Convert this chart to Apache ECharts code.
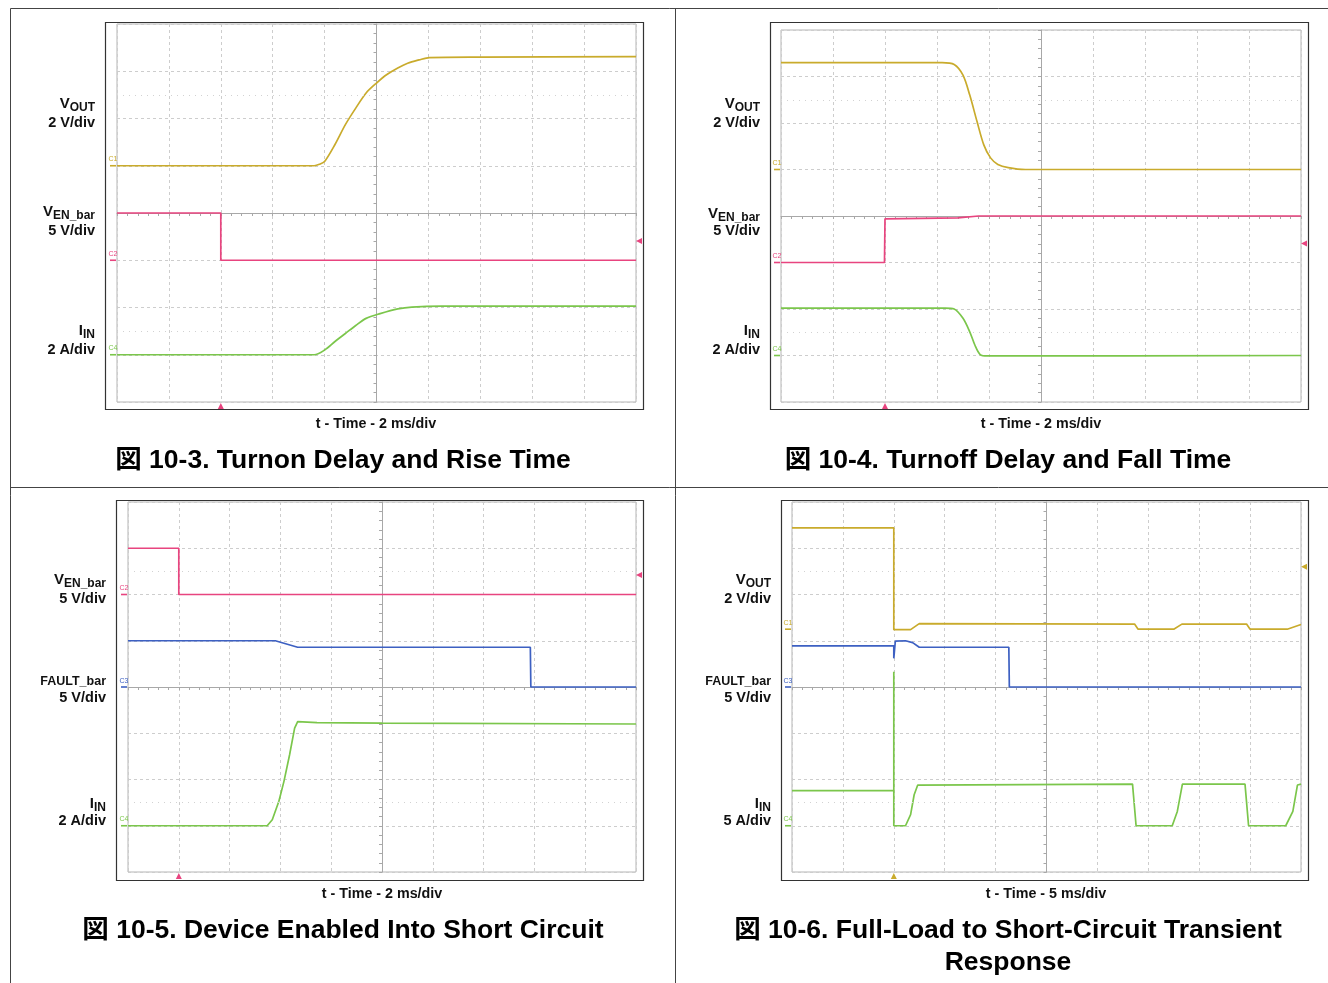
<!DOCTYPE html>
<html><head><meta charset="utf-8">
<script src="https://cdn.jsdelivr.net/npm/echarts@6/dist/echarts.min.js"></script>
<style>html,body{margin:0;padding:0;background:#fff}#c{width:1328px;height:983px}</style>
</head><body><div id="c"></div><script>
// ---------------- DATA (time in ms, amplitude in divisions from screen centre) ----------------
const fig3Vout = [[-10,1.0],[-2.4,1.0],[-2.2,1.03],[-2.0,1.09],[-1.6,1.45],[-1.2,1.87],[-0.8,2.22],[-0.4,2.54],[0,2.75],[0.4,2.93],[0.82,3.07],[1.2,3.17],[1.64,3.24],[2.04,3.29],[4,3.30],[10,3.31]];
const fig3Ven  = [[-10,0],[-6,0],[-6,-1],[10,-1]];
const fig3Iin  = [[-10,-3],[-2.4,-3],[-2.0,-2.9],[-1.6,-2.72],[-1.2,-2.55],[-0.8,-2.38],[-0.4,-2.23],[0.14,-2.13],[0.82,-2.03],[1.36,-1.99],[2.5,-1.97],[10,-1.97]];

const fig4Vout = [[-10,3.30],[-3.8,3.30],[-3.34,3.26],[-3.0,3.03],[-2.74,2.60],[-2.46,2.03],[-2.2,1.53],[-1.94,1.25],[-1.66,1.11],[-1.26,1.04],[-0.6,1.0],[10,1.0]];
const fig4Ven  = [[-10,-1.0],[-6.02,-1.0],[-6.0,-0.06],[-3.2,-0.04],[-2.4,0.0],[10,0.0]];
const fig4Iin  = [[-10,-1.98],[-3.68,-1.98],[-3.34,-2.0],[-3.0,-2.2],[-2.74,-2.49],[-2.54,-2.78],[-2.34,-2.98],[-2.06,-3.01],[10,-3.0]];

const fig5Ven   = [[-10,3],[-8,3],[-8,2],[10,2]];
const fig5Fault = [[-10,1.0],[-4.2,1.0],[-3.32,0.86],[5.84,0.86],[5.86,0.0],[10,0.0]];
const fig5Iin   = [[-10,-3.0],[-4.52,-3.0],[-4.32,-2.87],[-4.06,-2.47],[-3.86,-2.04],[-3.64,-1.47],[-3.44,-0.89],[-3.32,-0.75],[-2.56,-0.77],[0,-0.78],[10,-0.80]];

const fig6Vout  = [[-25,3.44],[-15,3.44],[-15,1.24],[-13.35,1.24],[-12.5,1.37],[8.65,1.36],[9.0,1.25],[12.5,1.25],[13.3,1.36],[19.65,1.36],[20,1.25],[23.65,1.25],[25,1.35]];
const fig6Fault = [[-25,0.89],[-15,0.89],[-15,0.62],[-14.85,0.99],[-13.85,1.0],[-13.15,0.96],[-12.5,0.86],[-3.7,0.86],[-3.65,0.0],[25,0.0]];
const fig6Iin   = [[-25,-2.24],[-15,-2.24],[-15,0.33],[-15,-3.0],[-13.85,-3.0],[-13.35,-2.76],[-13.0,-2.33],[-12.65,-2.12],[-12.5,-2.1],[8.45,-2.1],[8.8,-3.0],[12.35,-3.0],[12.85,-2.69],[13.35,-2.1],[19.5,-2.1],[19.85,-3.0],[23.5,-3.0],[24.2,-2.69],[24.65,-2.12],[25,-2.1]];

const timeHalfSpan = [10,10,10,25];
const timeDiv      = [2,2,2,5];
const triggerTimes = [-6,-6,-8,-15];
const rightMarkLevels = [-0.59,-0.59,2.42,2.6];
const channelTags = [
  [['C1',1],['C2',-1],['C4',-3]],
  [['C1',1],['C2',-1],['C4',-3]],
  [['C2',2],['C3',0],['C4',-3]],
  [['C1',1.25],['C3',0],['C4',-3]]
];
const timeLabels = ['t - Time - 2 ms/div','t - Time - 2 ms/div','t - Time - 2 ms/div','t - Time - 5 ms/div'];
const figTitles = [['図 10-3. Turnon Delay and Rise Time'],['図 10-4. Turnoff Delay and Fall Time'],['図 10-5. Device Enabled Into Short Circuit'],['図 10-6. Full-Load to Short-Circuit Transient','Response']];
const chanNames = [
  [['V','OUT','2 V/div'],['V','EN_bar','5 V/div'],['I','IN','2 A/div']],
  [['V','OUT','2 V/div'],['V','EN_bar','5 V/div'],['I','IN','2 A/div']],
  [['V','EN_bar','5 V/div'],['FAULT_bar','','5 V/div'],['I','IN','2 A/div']],
  [['V','OUT','2 V/div'],['FAULT_bar','','5 V/div'],['I','IN','5 A/div']]
];

// ---------------- STYLE / LAYOUT ----------------
const FONT = '"Liberation Sans", Arial, "Noto Sans CJK JP", sans-serif';
const COL = {C1:'#c9ab2c', C2:'#e8447f', C3:'#3d60c2', C4:'#7bc64b'};
const panelSeries = [
  [[fig3Vout,'C1',true],[fig3Ven,'C2',false],[fig3Iin,'C4',true]],
  [[fig4Vout,'C1',true],[fig4Ven,'C2',false],[fig4Iin,'C4',true]],
  [[fig5Ven,'C2',false],[fig5Fault,'C3',false],[fig5Iin,'C4',false]],
  [[fig6Vout,'C1',false],[fig6Fault,'C3',false],[fig6Iin,'C4',false]]
];
const trigChan = ['C2','C2','C2','C1'];
const layout = [
  {grid:[117,24,519,378], frame:[105,22,538,387], labelX:95, labelY:[[104,123],[212,231],[331,350]], timeY:424, titleY:[461]},
  {grid:[781,30,520,372], frame:[770,22,538,387], labelX:760, labelY:[[104,123],[214,231],[331,350]], timeY:424, titleY:[461]},
  {grid:[128,502,508,370], frame:[116,500,527,380], labelX:106, labelY:[[580,599],[682,698],[804,821]], timeY:894, titleY:[931]},
  {grid:[792,502,509,370], frame:[781,500,527,380], labelX:771, labelY:[[580,599],[682,698],[804,821]], timeY:894, titleY:[931,963]}
];
const titleCX = [343,1008,343,1008];
const timeCX = [376,1041,382,1046];

const mctx = document.createElement('canvas').getContext('2d');
function tw(t,f){mctx.font=f;return mctx.measureText(t).width;}

const chart = echarts.init(document.getElementById('c'), null, {renderer:'canvas'});
const grids=[], xAxes=[], yAxes=[], series=[], graphics=[];

// table lines
[[10.5,8.5,1328,8.5],[10.5,8.5,10.5,983],[675.5,8.5,675.5,983],[10.5,487.5,1328,487.5]].forEach(s=>{
  graphics.push({type:'line',shape:{x1:s[0],y1:s[1],x2:s[2],y2:s[3]},style:{stroke:'#444',lineWidth:1},z:10});
});

layout.forEach((L,i)=>{
  const [gl,gt,gw,gh]=L.grid;
  grids.push({left:gl,top:gt,width:gw,height:gh,show:true,borderColor:'#b5b5b5',borderWidth:1,backgroundColor:'#fff'});
  const span=timeHalfSpan[i], dv=timeDiv[i];
  xAxes.push({type:'value',gridIndex:i,min:-span,max:span,interval:dv,
    axisLine:{show:true,onZero:true,lineStyle:{color:'#a8a8a8',width:1}},
    axisTick:{show:true,length:3,lineStyle:{color:'#a8a8a8'}},
    minorTick:{show:true,splitNumber:5,length:3,lineStyle:{color:'#a8a8a8'}},
    axisLabel:{show:false},
    splitLine:{show:true,lineStyle:{color:'#cdcdcd',type:[3,3],width:1}}});
  yAxes.push({type:'value',gridIndex:i,min:-4,max:4,interval:1,
    axisLine:{show:true,onZero:true,lineStyle:{color:'#a8a8a8',width:1}},
    axisTick:{show:true,length:3,lineStyle:{color:'#a8a8a8'}},
    minorTick:{show:true,splitNumber:5,length:3,lineStyle:{color:'#a8a8a8'}},
    axisLabel:{show:false},
    splitLine:{show:true,lineStyle:{color:'#cdcdcd',type:[3,3],width:1}}});
  const [fx,fy,fw,fh]=L.frame;
  graphics.push({type:'rect',shape:{x:fx+0.5,y:fy+0.5,width:fw,height:fh},style:{fill:null,stroke:'#333',lineWidth:1.2},z:5});
  panelSeries[i].forEach(([d,ch,smooth],k)=>{
    const lvl = channelTags[i].find(t=>t[0]===ch)[1];
    const mpData=[{coord:[-span,lvl],symbol:'rect',symbolSize:[6,1.6],symbolOffset:[-4,0],
      label:{show:true,formatter:ch,position:'top',distance:2,fontSize:7,color:COL[ch],fontFamily:FONT}}];
    if(trigChan[i]===ch){
      mpData.push({coord:[triggerTimes[i],-4],symbol:'triangle',symbolSize:[6,6],symbolOffset:[0,4],label:{show:false}});
      mpData.push({coord:[span,rightMarkLevels[i]],symbol:'triangle',symbolSize:[6,6],symbolRotate:90,symbolOffset:[3,0],label:{show:false}});
    }
    const s={type:'line',xAxisIndex:i,yAxisIndex:i,data:d,showSymbol:false,animation:false,
      smooth: smooth?0.3:false,
      lineStyle:{color:COL[ch],width:1.7},itemStyle:{color:COL[ch]},z:3,
      markPoint:{silent:true,animation:false,itemStyle:{color:COL[ch]},data:mpData}};
    if(k===0){
      s.markLine={silent:true,animation:false,symbol:'none',label:{show:false},
        lineStyle:{color:'#d2d2d2',type:[1,5],width:1},data:[{yAxis:2.5},{yAxis:-2.5}]};
    }
    series.push(s);
  });
  const fMain='bold 15px '+FONT, fSub='bold 12px '+FONT, fUnit='bold 14.5px '+FONT, fPlain='bold 12.5px '+FONT;
  chanNames[i].forEach(([m,sub,unit],k)=>{
    const [yM,yU]=L.labelY[k];
    const xr=L.labelX;
    if(sub){
      const sw=tw(sub,fSub);
      graphics.push({type:'text',x:xr-sw,y:yM,style:{text:m,font:fMain,fill:'#111',textAlign:'right',textVerticalAlign:'middle'}});
      graphics.push({type:'text',x:xr-sw,y:yM+4,style:{text:sub,font:fSub,fill:'#111',textAlign:'left',textVerticalAlign:'middle'}});
    } else {
      graphics.push({type:'text',x:xr,y:yM,style:{text:m,font:fPlain,fill:'#111',textAlign:'right',textVerticalAlign:'middle'}});
    }
    graphics.push({type:'text',x:xr,y:yU,style:{text:unit,font:fUnit,fill:'#111',textAlign:'right',textVerticalAlign:'middle'}});
  });
  graphics.push({type:'text',x:timeCX[i],y:L.timeY,style:{text:timeLabels[i],font:'bold 14.3px '+FONT,fill:'#111',textAlign:'center',textVerticalAlign:'middle'}});
  figTitles[i].forEach((t,k)=>{
    graphics.push({type:'text',x:titleCX[i],y:L.titleY[k],style:{text:t,font:'bold 26.5px '+FONT,fill:'#000',textAlign:'center',textVerticalAlign:'middle'}});
  });
});

chart.setOption({animation:false,backgroundColor:'#fff',grid:grids,xAxis:xAxes,yAxis:yAxes,series:series,graphic:graphics});
</script></body></html>
